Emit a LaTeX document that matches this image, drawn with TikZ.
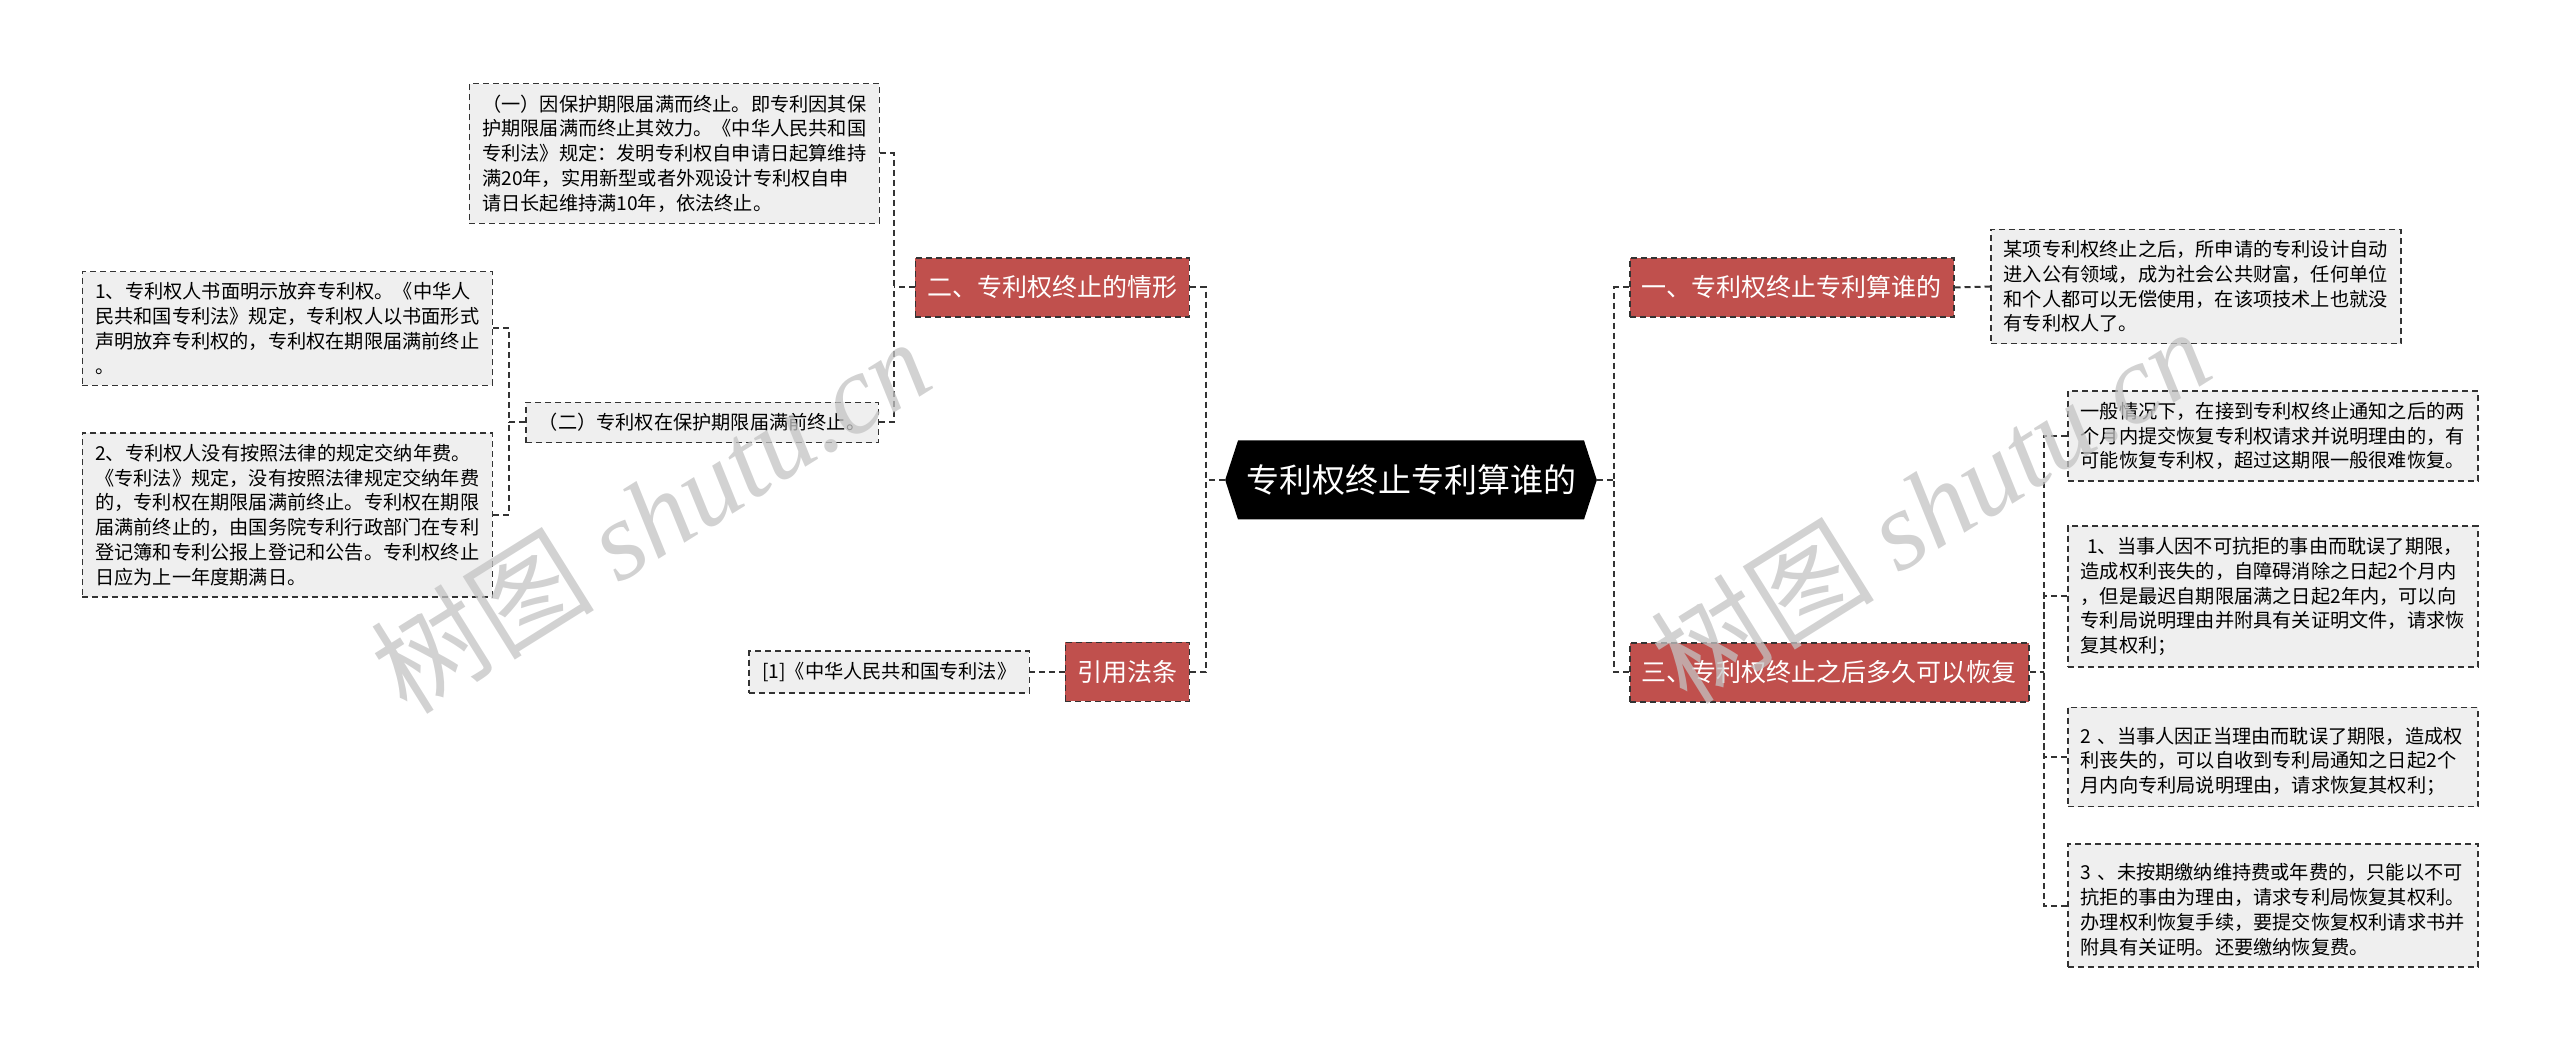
\documentclass[tikz,border=0pt]{standalone}
\usepackage{fontspec}
\setmainfont{Noto Sans CJK SC}
\newfontfamily\markserif{Liberation Serif}
\usetikzlibrary{shapes.symbols}
\definecolor{branchred}{RGB}{192,80,77}
\definecolor{leafgray}{RGB}{239,239,239}
\definecolor{linegray}{RGB}{51,51,51}
\definecolor{markgray}{RGB}{195,195,195}
\tikzset{
  link/.style={draw=linegray, line width=1pt, dash pattern=on 3pt off 2pt},
  root/.style={signal, signal to=east and west, signal pointer angle=144, fill=black, text=white,
    font=\fontsize{16.5}{20}\selectfont, minimum width=184.5pt, minimum height=39.5pt, inner xsep=4pt},
  branch/.style={rectangle, fill=branchred, draw=linegray, dash pattern=on 3pt off 2pt, line width=0.75pt,
    text=white, font=\fontsize{12.5}{15}\selectfont, minimum height=29.5pt, inner xsep=6pt},
  leaf/.style={rectangle, fill=leafgray, draw=linegray, dash pattern=on 3pt off 2pt, line width=0.75pt,
    align=left, font=\fontsize{9.6}{12.4}\selectfont, inner xsep=6.5pt, inner ysep=5.5pt},
  wideleaf/.style={leaf, text width=192pt},
  watermark/.style={text=markgray, opacity=0.75, rotate=32, font=\fontsize{56}{56}\selectfont}
}
\begin{document}
\begin{tikzpicture}[x=0.5pt, y=-0.5pt]
  \useasboundingbox (0,0) rectangle (2560,1052);
  \node[root] (root) at (1411,480) {专利权终止专利算谁的};
  % left side
  \node[branch, anchor=east] (stop) at (1190,287.5) {二、专利权终止的情形};
  \node[branch, anchor=east] (cite) at (1190,672) {引用法条};
  \node[wideleaf, anchor=east] (expire) at (880,153.5) {（一）因保护期限届满而终止。即专利因其保\\护期限届满而终止其效力。《中华人民共和国\\专利法》规定：发明专利权自申请日起算维持\\满20年，实用新型或者外观设计专利权自申\\请日长起维持满10年，依法终止。};
  \node[leaf, anchor=east] (early) at (879,422.5) {（二）专利权在保护期限届满前终止。};
  \node[wideleaf, anchor=east] (waive) at (493,328.5) {1、专利权人书面明示放弃专利权。《中华人\\民共和国专利法》规定，专利权人以书面形式\\声明放弃专利权的，专利权在期限届满前终止\\。};
  \node[wideleaf, anchor=east] (unpaid) at (493,515) {2、专利权人没有按照法律的规定交纳年费。\\《专利法》规定，没有按照法律规定交纳年费\\的，专利权在期限届满前终止。专利权在期限\\届满前终止的，由国务院专利行政部门在专利\\登记簿和专利公报上登记和公告。专利权终止\\日应为上一年度期满日。};
  \node[leaf, anchor=east] (law) at (1030,672) {[1]《中华人民共和国专利法》};
  % right side
  \node[branch, anchor=west] (owner) at (1629,287.5) {一、专利权终止专利算谁的};
  \node[branch, anchor=west] (revive) at (1629,672.5) {三、专利权终止之后多久可以恢复};
  \node[wideleaf, anchor=west] (public) at (1990,286.5) {某项专利权终止之后，所申请的专利设计自动\\进入公有领域，成为社会公共财富，任何单位\\和个人都可以无偿使用，在该项技术上也就没\\有专利权人了。};
  \node[wideleaf, anchor=west] (general) at (2067,436) {一般情况下，在接到专利权终止通知之后的两\\个月内提交恢复专利权请求并说明理由的，有\\可能恢复专利权，超过这期限一般很难恢复。};
  \node[wideleaf, anchor=west] (force) at (2067,596.5) {\ 1、当事人因不可抗拒的事由而耽误了期限，\\造成权利丧失的，自障碍消除之日起2个月内\\，但是最迟自期限届满之日起2年内，可以向\\专利局说明理由并附具有关证明文件，请求恢\\复其权利；};
  \node[wideleaf, anchor=west] (reason) at (2067,757) {\ 2~、当事人因正当理由而耽误了期限，造成权\\利丧失的，可以自收到专利局通知之日起2个\\月内向专利局说明理由，请求恢复其权利；};
  \node[wideleaf, anchor=west] (fee) at (2067,905.5) {\ 3~、未按期缴纳维持费或年费的，只能以不可\\抗拒的事由为理由，请求专利局恢复其权利。\\办理权利恢复手续，要提交恢复权利请求书并\\附具有关证明。还要缴纳恢复费。};
  % connectors
  \draw[link] (root.west) -- ++(-19,0) coordinate (lt);
  \draw[link] (stop.east) -| (lt);
  \draw[link] (cite.east) -| (lt);
  \draw[link] (root.east) -- ++(17,0) coordinate (rt);
  \draw[link] (owner.west) -| (rt);
  \draw[link] (revive.west) -| (rt);
  \draw[link] (stop.west) -- ++(-21,0) coordinate (st);
  \draw[link] (expire.east) -| (st);
  \draw[link] (early.east) -| (st);
  \draw[link] (early.west) -- ++(-16,0) coordinate (et);
  \draw[link] (waive.east) -| (et);
  \draw[link] (unpaid.east) -| (et);
  \draw[link] (cite.west) -- (law.east);
  \draw[link] (owner.east) -- (public.west);
  \draw[link] (revive.east) -- ++(14,0) coordinate (rv);
  \foreach \n in {general,force,reason,fee}
    \draw[link] (\n.west) -| (rv);
  % watermark
  \node[watermark] (markL) at (650,515) {树图 {\markserif\itshape shutu.cn}};
  \node[watermark] (markR) at (1930,505) {树图 {\markserif\itshape shutu.cn}};
\end{tikzpicture}
\end{document}
